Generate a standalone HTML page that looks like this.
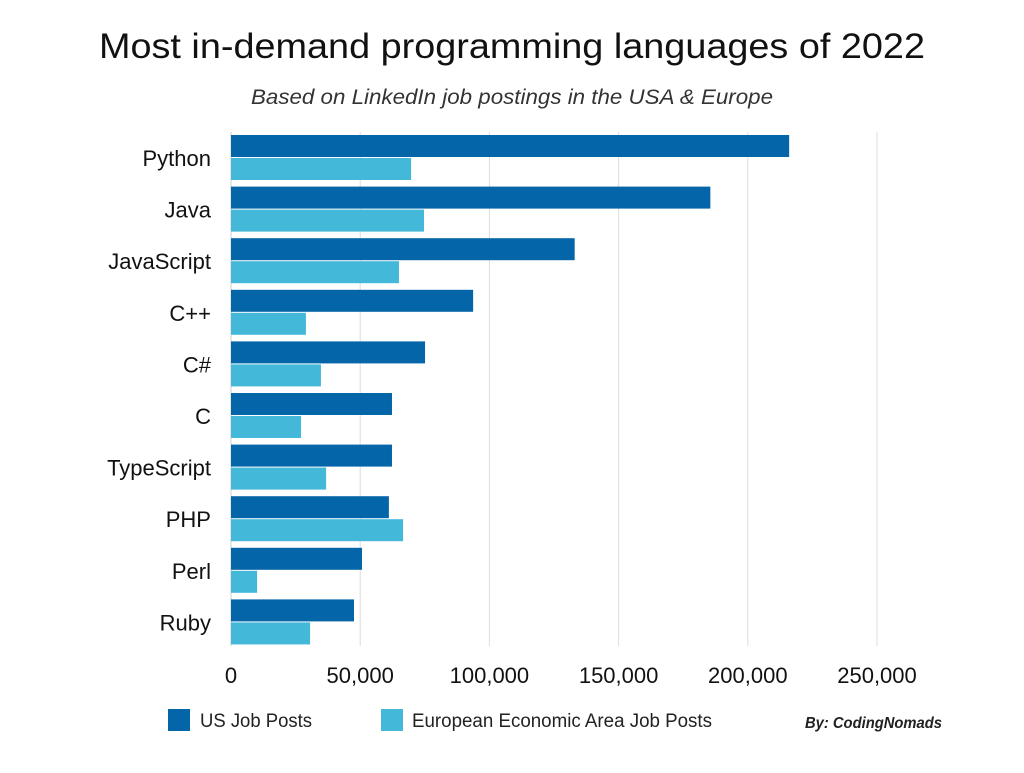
<!DOCTYPE html>
<html><head><meta charset="utf-8"><style>
body{margin:0;background:#fff;width:1024px;height:768px;overflow:hidden;font-family:"Liberation Sans",sans-serif}
</style></head><body>
<svg width="1024" height="768">
<text x="512" y="58" text-anchor="middle" font-size="35" fill="#111" textLength="826" lengthAdjust="spacingAndGlyphs">Most in-demand programming languages of 2022</text>
<text x="512" y="104" text-anchor="middle" font-size="21" font-style="italic" fill="#333" textLength="522" lengthAdjust="spacingAndGlyphs">Based on LinkedIn job postings in the USA &amp; Europe</text>
<g id="grid"></g><g id="bars"></g><g id="labels"></g><g id="ticks"></g>
<rect x="168" y="709" width="22" height="22" fill="#0565a9"/>
<text x="200" y="727" font-size="19" fill="#222" textLength="112" lengthAdjust="spacingAndGlyphs">US Job Posts</text>
<rect x="381" y="709" width="22" height="22" fill="#43b8d8"/>
<text x="412" y="727" font-size="19" fill="#222" textLength="300" lengthAdjust="spacingAndGlyphs">European Economic Area Job Posts</text>
<text x="942" y="728" text-anchor="end" font-size="16" font-style="italic" font-weight="bold" fill="#222" textLength="137" lengthAdjust="spacingAndGlyphs">By: CodingNomads</text>
</svg>
<script>
const categories=["Python","Java","JavaScript","C++","C#","C","TypeScript","PHP","Perl","Ruby"];
const usValues=[216000,185500,133000,93700,75100,62300,62300,61100,50700,47600];
const eeaValues=[69700,74700,65000,29000,34800,27100,36800,66600,10100,30600];
const tickValues=[0,50000,100000,150000,200000,250000];
const tickLabels=["0","50,000","100,000","150,000","200,000","250,000"];
const NS="http://www.w3.org/2000/svg";
const x0=231,x1=877,maxV=250000,plotTop=132,step=51.6;
const xs=v=>x0+v/maxV*(x1-x0);
function mk(t,a,p){const e=document.createElementNS(NS,t);for(const k in a)e.setAttribute(k,a[k]);document.getElementById(p).appendChild(e);return e;}
tickValues.forEach((v,i)=>{
 if(i>0){const g=mk('line',{x1:xs(v),x2:xs(v),y1:plotTop,y2:646,stroke:'#ddd','stroke-width':1},'grid');
 
 }
 const t=mk('text',{x:xs(v),y:683,'text-anchor':'middle','font-size':22,fill:'#111'},'ticks');t.textContent=tickLabels[i];
 
 
});
const ax=mk('line',{x1:x0,x2:x0,y1:plotTop,y2:646,stroke:'#ccc'},'grid');


categories.forEach((c,i)=>{
 const y=plotTop+i*step+3;
 const b1=mk('rect',{x:x0,y:y,width:xs(usValues[i])-x0,height:22,fill:'#0565a9'},'bars');
 
 
 const b2=mk('rect',{x:x0,y:y+23,width:xs(eeaValues[i])-x0,height:22,fill:'#43b8d8'},'bars');
 
 
 const t=mk('text',{x:211,y:y+31,'text-anchor':'end','font-size':22,fill:'#111'},'labels');t.textContent=c;
 
 
});
</script>
</body></html>
